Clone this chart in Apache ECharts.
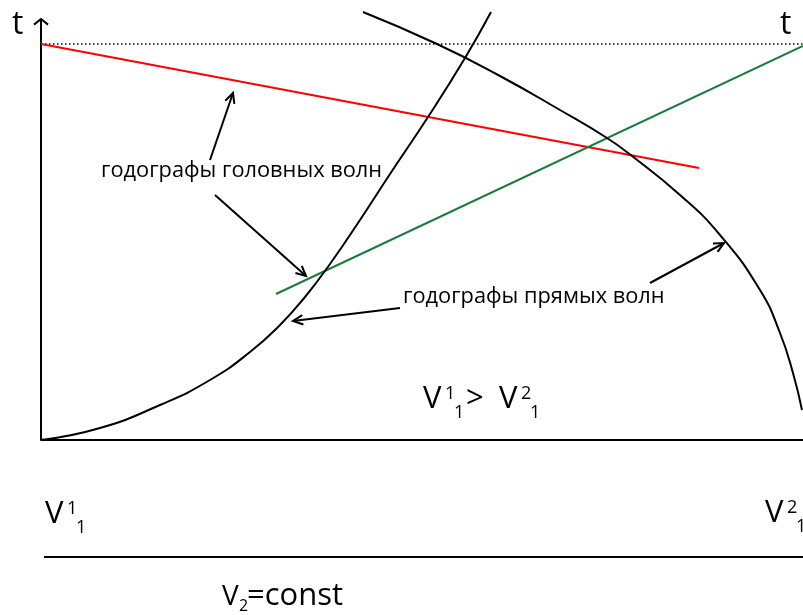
<!DOCTYPE html>
<html>
<head>
<meta charset="utf-8">
<script src="https://cdn.jsdelivr.net/npm/echarts@6/dist/echarts.min.js"></script>
<style>
  html, body { margin: 0; padding: 0; background: #fff; }
  #chart { width: 803px; height: 615px; }
</style>
</head>
<body>
<div id="chart"></div>
<script>
// coordinates: x = distance along profile, t = travel time (chart units)
var directWave1 = [[0, 0], [59, 12], [119, 35], [169, 60], [209, 88], [239, 115], [264, 143],
  [289, 176], [319, 220], [349, 266], [387, 323], [424, 382], [450, 428]];
var directWave2 = [[322, 428], [396, 396], [459, 364], [519, 330], [566, 302], [591, 284],
  [639, 245], [679, 205], [719, 150], [739, 107], [752, 67], [761, 30]];
var headWave1 = [[0, 396], [658, 272]];
var headWave2 = [[235, 146], [762, 394]];
var tLevel = [[0, 396], [762, 396]];
var tAxis = [[0, 0, 0, 421]];
// pointer arrows: [fromX, fromT, toX, toT]
var pointers = [
  [169, 280, 192, 347],
  [174, 245, 265, 164],
  [359, 132, 252, 119],
  [609, 157, 683, 197]
];

var FONT = '"Open Sans", "Noto Sans", sans-serif';

function arrowRenderer(len, spread) {
  return function (params, api) {
    var p1 = api.coord([api.value(0), api.value(1)]);
    var p2 = api.coord([api.value(2), api.value(3)]);
    var ang = Math.atan2(p2[1] - p1[1], p2[0] - p1[0]);
    var h1 = [p2[0] - len * Math.cos(ang - spread), p2[1] - len * Math.sin(ang - spread)];
    var h2 = [p2[0] - len * Math.cos(ang + spread), p2[1] - len * Math.sin(ang + spread)];
    return {
      type: 'group',
      children: [
        { type: 'line', shape: { x1: p1[0], y1: p1[1], x2: p2[0], y2: p2[1] },
          style: { stroke: '#000', lineWidth: 2 } },
        { type: 'polyline', shape: { points: [h1, p2, h2] },
          style: { stroke: '#000', lineWidth: 2, fill: null } }
      ]
    };
  };
}

function txt(x, y, text, size, align) {
  return {
    type: 'text', x: x, y: y, silent: true,
    style: { text: text, font: size + 'px ' + FONT, fill: '#000',
      textAlign: align || 'left', textVerticalAlign: 'middle' }
  };
}

// V with superscript and subscript
function vSym(x, y, sup, sub) {
  return [
    txt(x, y, 'V', 31),
    txt(x + 22, y - 5, sup, 18),
    txt(x + 31, y + 14, sub, 18)
  ];
}

var graphics = [
  txt(12, 25, 't', 32),
  txt(780, 25, 't', 32),
  txt(101, 171, 'годографы головных волн', 21.8),
  txt(403, 297, 'годографы прямых волн', 21.8),
  txt(466, 399, '>', 31),
  txt(222, 597, 'V', 28),
  txt(239, 606, '2', 16),
  txt(247, 596, '=const', 31),
  { type: 'line', silent: true, shape: { x1: 44, y1: 557, x2: 803, y2: 557 },
    style: { stroke: '#000', lineWidth: 2 } }
].concat(vSym(423, 399, '1', '1'))
 .concat(vSym(499, 399, '2', '1'))
 .concat(vSym(45, 514, '1', '1'))
 .concat(vSym(765, 513, '2', '1'));

var chart = echarts.init(document.getElementById('chart'));
chart.setOption({
  animation: false,
  grid: { left: 41, right: 0, top: 0, bottom: 175 },
  xAxis: {
    type: 'value', min: 0, max: 762,
    axisLine: { show: true, onZero: false, lineStyle: { color: '#000', width: 2 } },
    axisTick: { show: false }, axisLabel: { show: false }, splitLine: { show: false }
  },
  yAxis: { type: 'value', min: 0, max: 440, show: false },
  graphic: graphics,
  series: [
    { type: 'line', data: tLevel, symbol: 'none',
      lineStyle: { color: '#000', width: 1.5, type: [1.5, 2.5] } },
    { type: 'line', data: headWave1, symbol: 'none',
      lineStyle: { color: '#ff0000', width: 2 } },
    { type: 'line', data: headWave2, symbol: 'none',
      lineStyle: { color: '#1b7a3e', width: 2 } },
    { type: 'line', data: directWave1, symbol: 'none', smooth: 0.5,
      lineStyle: { color: '#000', width: 2 } },
    { type: 'line', data: directWave2, symbol: 'none', smooth: 0.5,
      lineStyle: { color: '#000', width: 2 } },
    { type: 'custom', data: tAxis, renderItem: arrowRenderer(9, 0.9),
      encode: { x: [0, 2], y: [1, 3] }, clip: false },
    { type: 'custom', data: pointers, renderItem: arrowRenderer(11, 0.45),
      encode: { x: [0, 2], y: [1, 3] }, clip: false }
  ]
});
</script>
</body>
</html>
